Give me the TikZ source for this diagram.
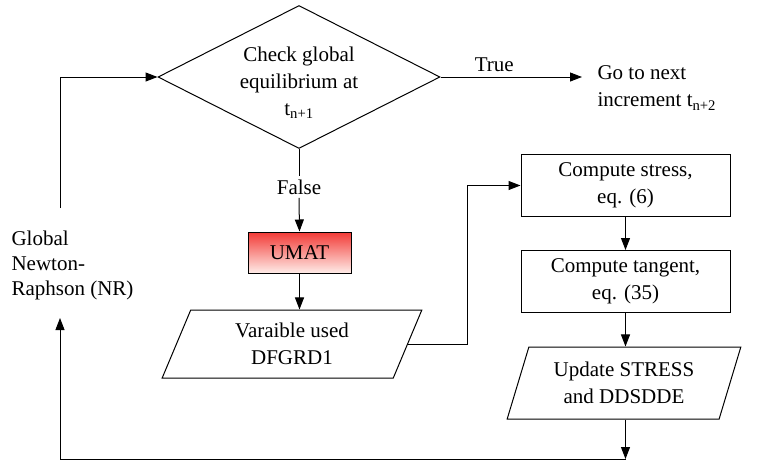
\documentclass[tikz,border=0pt]{standalone}
\usepackage{fontspec}
\setmainfont{Liberation Serif}
\usetikzlibrary{shapes.geometric,arrows.meta}
\begin{document}
\begin{tikzpicture}[x=1pt,y=-1pt,
  every node/.style={font=\fontsize{21}{27}\selectfont},
  ln/.style={line width=1pt},
  arr/.style={line width=1pt,-{Triangle[length=12pt,width=9pt]}},
  box/.style={draw,line width=1pt,minimum width=209pt,minimum height=62pt,align=center,inner sep=0pt},
  para/.style={draw,line width=1pt,trapezium,trapezium left angle=69,trapezium right angle=111,trapezium stretches=true,align=center,inner sep=0pt},
  dec/.style={diamond,draw,line width=1pt,minimum width=282pt,minimum height=143pt,inner sep=0pt},
  umatbox/.style={draw,line width=1pt,top color={rgb,255:red,242;green,58;blue,54},bottom color={rgb,255:red,255;green,236;blue,232},minimum width=103pt,minimum height=41pt,inner sep=0pt}]
\useasboundingbox (0,0) rectangle (769,461);

\node[dec] (chk) at (299,77) {};
\node[align=center] (chktxt) at (299,83) {Check global\\equilibrium at\\t\textsubscript{n+1}};
\coordinate (tend) at (582,77);
\node[anchor=west,align=left] (next) at (594,88) {Go to next\\increment t\textsubscript{n+2}};
\draw[arr] (chk.east) -- node[above=1pt,pos=0.38] (truelbl) {True} (tend);

\node (false) at (299,187) {False};
\node[umatbox] (umat) at (299.5,252.5) {UMAT};
\draw[ln] (chk.south) -- (false.north);
\draw[arr] (false.south) -- (umat.north);

\node[para,minimum width=260pt,minimum height=68pt] (var) at (292,344) {Varaible used\\DFGRD1};
\draw[arr] (umat.south) -- (umat.south |- var.north);

\node[box] (stress) at (625.5,185.5) {Compute stress,\\eq. (6)};
\node[box] (tang) at (625.5,281.5) {Compute tangent,\\eq. (35)};
\node[para,minimum width=234pt,minimum height=72pt] (upd) at (624,383) {Update STRESS\\and DDSDDE};

\draw[arr] (var.east) -- ++(59,0) |- (stress.west);
\draw[arr] (stress.south) -- (tang.north);
\draw[arr] (tang.south) -- (tang.south |- upd.north);

\coordinate (bot) at (625.5,459);
\draw[arr] (bot |- upd.south) -- (bot);

\node[anchor=west,align=left,font=\fontsize{21}{25}\selectfont] (nr) at (8,265) {Global\\Newton-\\Raphson (NR)};
\coordinate (nrb) at (60,318);
\coordinate (nrt) at (60,208);
\draw[arr] (bot) -| (nrb);
\draw[arr] (nrt) |- (chk.west);
\end{tikzpicture}
\end{document}
